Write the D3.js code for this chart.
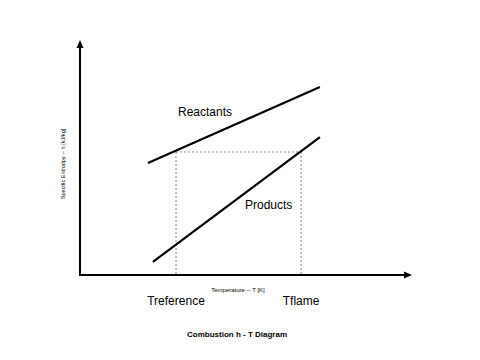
<!DOCTYPE html>
<html><head><meta charset="utf-8">
<script src="https://cdn.jsdelivr.net/npm/d3@7"></script>
<style>body{margin:0;background:#fff}svg{display:block}text{font-family:Arial,"Liberation Sans",sans-serif}</style>
</head><body><svg id="c" width="480" height="360"></svg>
<script>
// data in abstract units (x: temperature, y: specific enthalpy)
const reactants = [{x:20.6,y:48.1},{x:72.7,y:80.7}];
const products  = [{x:22.1,y:5.6},{x:72.7,y:59.2}];
const tempMarks = [{name:"Treference",x:29.1},{name:"Tflame",x:67.0}];
const dashTop = 52.8;
const seriesLabels = [{text:"Reactants",x:29.7,y:69.5},{text:"Products",x:50.0,y:29.6}];

const svg = d3.select("#c");
const x = d3.scaleLinear().domain([0,100]).range([80,410]);
const y = d3.scaleLinear().domain([0,100]).range([275,42]);

// dashed rectangle
const dash = svg.append("g").attr("stroke","#666").attr("stroke-width",0.8).attr("stroke-dasharray","2,2").attr("fill","none");
dash.append("line").attr("x1",x(tempMarks[0].x)).attr("x2",x(tempMarks[1].x)).attr("y1",y(dashTop)).attr("y2",y(dashTop));
tempMarks.forEach(t=>{
  dash.append("line").attr("x1",x(t.x)).attr("x2",x(t.x)).attr("y1",y(dashTop)).attr("y2",y(0));
});

// axes
svg.append("line").attr("x1",x(0)).attr("x2",x(0)).attr("y1",y(0)+1).attr("y2",y(100)+4).attr("stroke","#000").attr("stroke-width",2);
svg.append("line").attr("x1",x(0)-1).attr("x2",x(100)-4).attr("y1",y(0)).attr("y2",y(0)).attr("stroke","#000").attr("stroke-width",2);
svg.append("path").attr("d",`M${x(0)},${y(100)-2} L${x(0)-3.5},${y(100)+6} L${x(0)+3.5},${y(100)+6} Z`).attr("fill","#000");
svg.append("path").attr("d",`M${x(100)+2},${y(0)} L${x(100)-6},${y(0)-3.5} L${x(100)-6},${y(0)+3.5} Z`).attr("fill","#000");

// data lines
const line = d3.line().x(d=>x(d.x)).y(d=>y(d.y));
[reactants,products].forEach(s=>{
  svg.append("path").datum(s).attr("d",line).attr("stroke","#000").attr("stroke-width",2.2).attr("fill","none");
});

seriesLabels.forEach(l=>{
  svg.append("text").attr("x",x(l.x)).attr("y",y(l.y)).attr("font-size",12).attr("dominant-baseline","middle").text(l.text);
});

// temp labels
tempMarks.forEach(t=>{
  svg.append("text").attr("x",x(t.x)).attr("y",305).attr("text-anchor","middle").attr("font-size",12).text(t.name);
});

svg.append("text").attr("x",238).attr("y",292).attr("text-anchor","middle").attr("font-size",6).text("Temperature -- T [K]");
svg.append("text").attr("transform","translate(64.5,164) rotate(-90)").attr("text-anchor","middle").attr("font-size",5.6).text("Specific Enthalpy -- h [kJ/kg]");
svg.append("text").attr("x",237).attr("y",337).attr("text-anchor","middle").attr("font-size",8).attr("font-weight","bold").text("Combustion h - T Diagram");
</script></body></html>
